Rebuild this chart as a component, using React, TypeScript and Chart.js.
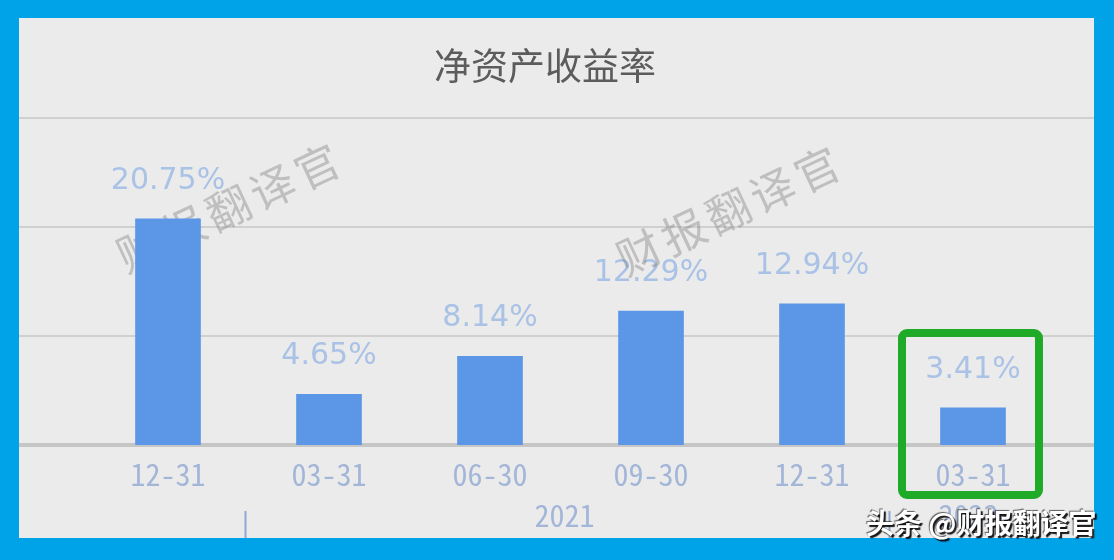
import React, { useEffect, useRef } from "react";
import { Chart, registerables } from "chart.js";

Chart.register(...registerables);

// ---- data ----
const categories = ["12-31", "03-31", "06-30", "09-30", "12-31", "03-31"];
const roeValues = [20.75, 4.65, 8.14, 12.29, 12.94, 3.41];
const valueLabels = ["20.75%", "4.65%", "8.14%", "12.29%", "12.94%", "3.41%"];
const gridValues = [0, 10, 20, 30];
const yearLabels = ["2021", "2022"];
const yearStartIndex = [1, 5];
const titleText = "净资产收益率";
const watermarkText = "财报翻译官";
const footerText = "头条 @财报翻译官";
const highlightIndex = 5;

const W = 1114;
const H = 560;
const FRAME = { l: 19, t: 18, r: 1094, b: 538 };
const TICK_FONT = "'Noto Sans Mono CJK SC', 'Liberation Mono', monospace";
const CJK_FONT = "'Noto Sans CJK SC', sans-serif";

function drawWatermark(ctx: CanvasRenderingContext2D, cx: number, cy: number) {
  const ang = (-25 * Math.PI) / 180;
  const step = 49;
  ctx.save();
  ctx.translate(cx, cy);
  ctx.rotate(ang);
  ctx.font = `44px ${CJK_FONT}`;
  ctx.fillStyle = "rgba(130,130,130,0.42)";
  ctx.textAlign = "center";
  ctx.textBaseline = "middle";
  const chars = Array.from(watermarkText);
  chars.forEach((ch, i) => {
    ctx.fillText(ch, (i - (chars.length - 1) / 2) * step, 0);
  });
  ctx.restore();
}

const decorPlugin = {
  id: "decor",
  beforeDraw(chart: any) {
    const ctx: CanvasRenderingContext2D = chart.ctx;
    ctx.save();
    ctx.fillStyle = "#00a2e8";
    ctx.fillRect(0, 0, W, H);
    ctx.fillStyle = "#ebebeb";
    ctx.fillRect(FRAME.l, FRAME.t, FRAME.r - FRAME.l, FRAME.b - FRAME.t);

    const ys = chart.scales.y;
    gridValues.forEach((v) => {
      const py = ys.getPixelForValue(v);
      ctx.strokeStyle = v === 0 ? "#c6c6c6" : "#d0d0d0";
      ctx.lineWidth = v === 0 ? 4 : 2;
      ctx.beginPath();
      ctx.moveTo(FRAME.l, py);
      ctx.lineTo(FRAME.r, py);
      ctx.stroke();
    });

    ctx.font = `37px ${CJK_FONT}`;
    ctx.fillStyle = "#5c5c5c";
    ctx.textAlign = "center";
    ctx.textBaseline = "middle";
    ctx.fillText(titleText, 545, 66);
    ctx.restore();
  },
  beforeDatasetsDraw(chart: any) {
    const ctx: CanvasRenderingContext2D = chart.ctx;
    const meta = chart.getDatasetMeta(0);
    ctx.save();
    ctx.font = "30px 'DejaVu Sans', sans-serif";
    ctx.fillStyle = "#a9c2e6";
    ctx.textAlign = "center";
    ctx.textBaseline = "alphabetic";
    meta.data.forEach((bar: any, i: number) => {
      ctx.fillText(valueLabels[i], bar.x, bar.y - 30);
    });
    ctx.restore();
    drawWatermark(ctx, 228, 208);
    drawWatermark(ctx, 728, 211);
  },
  afterDraw(chart: any) {
    const ctx: CanvasRenderingContext2D = chart.ctx;
    const xs = chart.scales.x;
    const ys = chart.scales.y;
    const area = chart.chartArea;
    ctx.save();
    // group separators
    const seps = yearStartIndex.map(
      (i) => (xs.getPixelForValue(i - 1) + xs.getPixelForValue(i)) / 2 - 3
    );
    ctx.strokeStyle = "#8fa7d0";
    ctx.lineWidth = 2;
    seps.forEach((sx) => {
      ctx.beginPath();
      ctx.moveTo(sx, 511);
      ctx.lineTo(sx, FRAME.b);
      ctx.stroke();
    });
    // year labels
    ctx.font = `30px ${TICK_FONT}`;
    ctx.fillStyle = "#a3b6d8";
    ctx.textAlign = "center";
    ctx.textBaseline = "middle";
    yearLabels.forEach((lab, k) => {
      const left = seps[k];
      const right = k + 1 < seps.length ? seps[k + 1] : area.right;
      ctx.fillText(lab, (left + right) / 2 - 3, 516);
    });
    // highlight box
    const bar = chart.getDatasetMeta(0).data[highlightIndex];
    const base = ys.getPixelForValue(0);
    const cx = bar.x - 2.5;
    const hw = 68.5;
    const top = base - 112;
    const bottom = base + 50;
    ctx.strokeStyle = "#1faa28";
    ctx.lineWidth = 8;
    ctx.lineJoin = "round";
    ctx.beginPath();
    (ctx as any).roundRect(cx - hw, top, hw * 2, bottom - top, 5);
    ctx.stroke();
    ctx.restore();
  },
};

export default function App() {
  const canvasRef = useRef<HTMLCanvasElement | null>(null);

  useEffect(() => {
    if (!canvasRef.current) return;
    const chart = new Chart(canvasRef.current, {
      type: "bar",
      data: {
        labels: categories,
        datasets: [
          {
            data: roeValues,
            backgroundColor: "#5b97e6",
            borderWidth: 0,
            barThickness: 65,
          },
        ],
      },
      options: {
        animation: false,
        responsive: false,
        maintainAspectRatio: false,
        layout: { padding: { left: 87.5, right: 60.5, top: 118, bottom: 0 } },
        plugins: {
          legend: { display: false },
          title: { display: false },
          tooltip: { enabled: false },
        },
        scales: {
          x: {
            grid: { display: false, drawTicks: false },
            border: { display: false },
            ticks: {
              color: "#a3b6d8",
              font: { family: TICK_FONT, size: 30 },
              padding: 12,
              maxRotation: 0,
              autoSkip: false,
            },
            afterFit: (s: any) => {
              s.height = H - 445;
            },
          },
          y: { display: false, min: 0, max: 30 },
        },
      },
      plugins: [decorPlugin],
    });
    return () => chart.destroy();
  }, []);

  return (
    <div style={{ position: "fixed", left: 0, top: 0, width: W, height: H }}>
      <canvas
        ref={canvasRef}
        width={W}
        height={H}
        style={{ position: "absolute", left: 0, top: 0, width: W, height: H }}
      />
      <div
        style={{
          position: "absolute",
          left: 866,
          top: 507,
          fontFamily: CJK_FONT,
          fontSize: 28,
          lineHeight: "30px",
          fontWeight: 700,
          color: "#ffffff",
          whiteSpace: "nowrap",
          textShadow: "2px 2px 1px rgba(0,0,0,0.9), -1px -1px 1px rgba(0,0,0,0.6)",
        }}
      >
        {footerText}
      </div>
    </div>
  );
}
